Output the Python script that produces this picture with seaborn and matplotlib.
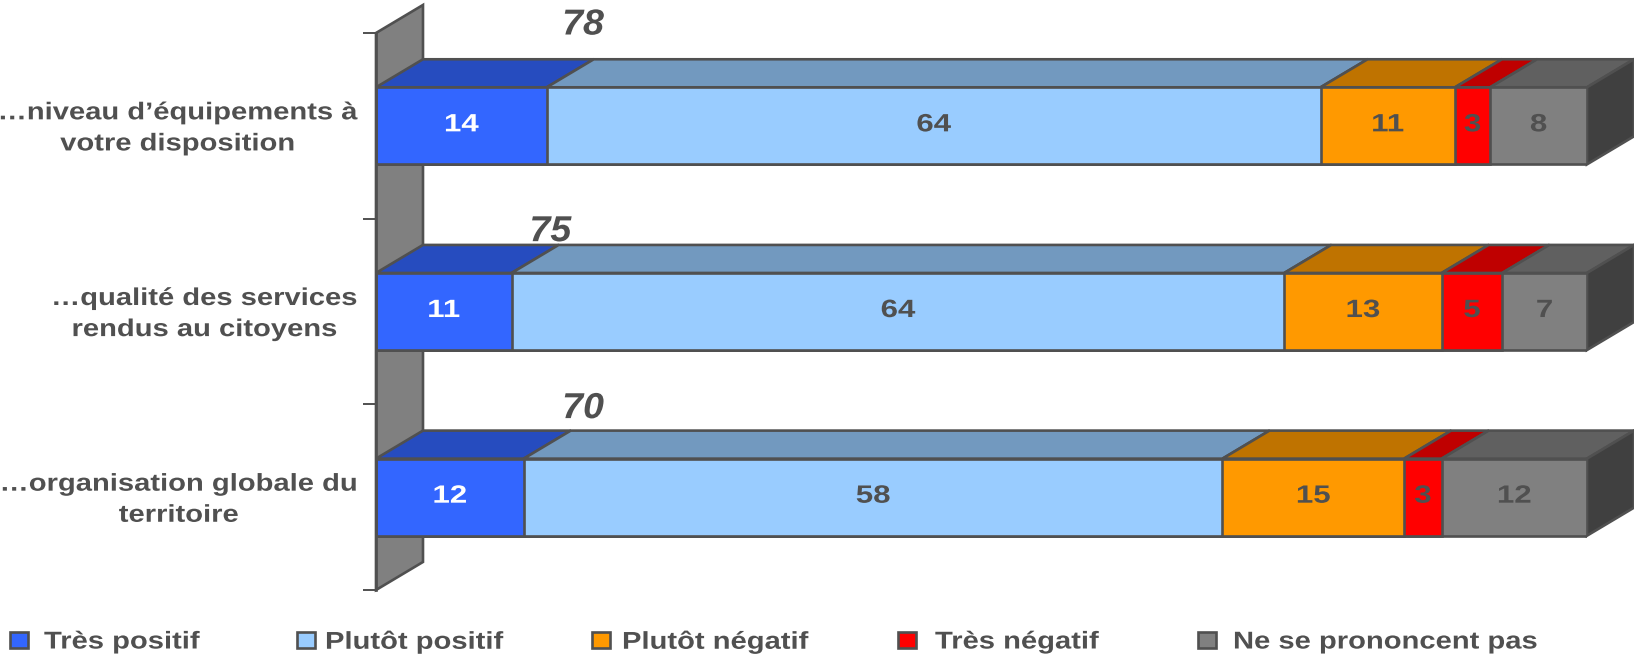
import matplotlib
matplotlib.use('Agg')
import matplotlib.pyplot as plt
from matplotlib.patches import Polygon, Rectangle
from matplotlib.patheffects import AbstractPathEffect
from matplotlib.transforms import Affine2D, ScaledTranslation
import numpy as np
import seaborn as sns

categories = ["…niveau d’équipements à\nvotre disposition",
              "…qualité des services\nrendus au citoyens",
              "…organisation globale du\nterritoire"]
series_names = ['Très positif', 'Plutôt positif', 'Plutôt négatif', 'Très négatif', 'Ne se prononcent pas']
tres_positif = [14.1, 11.2, 12.2]
plutot_positif = [63.9, 63.8, 57.7]
plutot_negatif = [11.1, 13, 15]
tres_negatif = [2.9, 5, 3.1]
ne_se_prononcent = [8, 7, 12]
totals = [78, 75, 70]

colors = ['#3366FF', '#99CCFF', '#FF9900', '#FF0000', '#808080']
top_colors = ['#264CBF', '#7299BF', '#BF7300', '#BF0000', '#606060']
edge = '#505050'
W, H = 1634, 658
DX, DY = 3.88, 0.151   # depth of the fake 3d, in data units
BAR = 0.415
LW = 1.9


# the original text is horizontally stretched Arial
class Stretch(AbstractPathEffect):
    def __init__(self, text, sx, anchor=0.5):
        super().__init__()
        self.text, self.sx, self.anchor = text, sx, anchor

    def draw_path(self, renderer, gc, tpath, affine, rgbFace=None):
        box = self.text.get_window_extent(renderer)
        xa = box.x0 + self.anchor * box.width
        st = Affine2D().translate(-xa, 0).scale(self.sx, 1).translate(xa, 0)
        renderer.draw_path(gc, tpath, affine + st, rgbFace)


def stretch(text, sx, anchor=0.5):
    text.set_path_effects([Stretch(text, sx, anchor)])
    return text


sns.set_style('white')
plt.rcParams['font.family'] = ['Liberation Sans', 'DejaVu Sans']

fig = plt.figure(figsize=(W / 100, H / 100), dpi=100)
ax = fig.add_axes([376 / W, (H - 590) / H, (1587 - 376) / W, (590 - 33) / H])

values = np.array([tres_positif, plutot_positif, plutot_negatif, tres_negatif, ne_se_prononcent], dtype=float)
cum = values.cumsum(axis=0)

# stacked bars: longest first, each shorter one painted over it
for i in range(4, -1, -1):
    sns.barplot(x=cum[i], y=categories, color=colors[i], saturation=1, width=BAR,
                edgecolor=edge, linewidth=LW, orient='h', ax=ax, zorder=3)

ax.set_xlim(0, 100)
ax.set_ylim(2.5, -0.5)
ax.set_xticks([])
ax.set_xlabel('')
ax.set_ylabel('')

# back wall
ax.add_patch(Polygon([(0, -0.5), (DX, -0.5 - DY), (DX, 2.5 - DY), (0, 2.5)], closed=True,
                     facecolor='#808080', edgecolor=edge, lw=LW, clip_on=False, zorder=1))

for r in range(3):
    top = r - BAR / 2
    bot = r + BAR / 2
    start = 0
    for i in range(5):
        end = cum[i][r]
        ax.add_patch(Polygon([(start, top), (start + DX, top - DY), (end + DX, top - DY), (end, top)],
                             closed=True, facecolor=top_colors[i], edgecolor=edge, lw=LW,
                             clip_on=False, zorder=2))
        t = ax.text((start + end) / 2, r - 0.008, '%.0f' % values[i][r], ha='center', va='center',
                    fontsize=18, fontweight='bold', color='white' if i == 0 else edge, zorder=5)
        stretch(t, 1.25)
        start = end
    # right side of the block
    ax.add_patch(Polygon([(100, top), (100 + DX, top - DY), (100 + DX, bot - DY), (100, bot)],
                         closed=True, facecolor='#404040', edgecolor=edge, lw=LW,
                         clip_on=False, zorder=2))

# totals sit above the positive part
total_x = [17.1, 14.4, 17.1]
total_y = [-0.543, 0.57, 1.523]
for x, y, v in zip(total_x, total_y, totals):
    t = ax.text(x, y, str(v), ha='center', va='center', fontsize=26, fontweight='bold',
                fontstyle='italic', color=edge, clip_on=False, zorder=5)
    stretch(t, 1.04)

for s in ['top', 'right', 'bottom']:
    ax.spines[s].set_visible(False)
ax.spines['left'].set_color(edge)
ax.spines['left'].set_linewidth(LW)
ax.spines['left'].set_zorder(6)
ax.patch.set_alpha(0)

ax.set_yticks([0, 1, 2])
ax.set_yticklabels(categories, multialignment='center', fontsize=17.5, fontweight='bold',
                   color=edge, linespacing=1.45)
ax.set_yticks([-0.5, 0.5, 1.5, 2.5], minor=True)
ax.tick_params(axis='y', which='major', length=0, pad=13)
ax.tick_params(axis='y', which='minor', left=True, length=9.5, width=1.4, color=edge)
up = ScaledTranslation(0, 4 / 100, fig.dpi_scale_trans)
for lab in ax.get_yticklabels():
    lab.set_transform(lab.get_transform() + up)
    stretch(lab, 1.2, anchor=1)

# legend, uneven spacing as in the original
marker_x = [10, 297, 592, 898, 1198]
text_x = [44, 325, 622, 935, 1233]
for i, name in enumerate(series_names):
    fig.add_artist(Rectangle((marker_x[i] / W, (H - 648) / H), 18 / W, 16 / H, transform=fig.transFigure,
                             facecolor=colors[i], edgecolor=edge, lw=LW))
    t = fig.text(text_x[i] / W, (H - 642) / H, name, ha='left', va='center', fontsize=17.5,
                 fontweight='bold', color=edge)
    stretch(t, 1.2, anchor=0)

fig.savefig('out.png', dpi=100, facecolor='white')
